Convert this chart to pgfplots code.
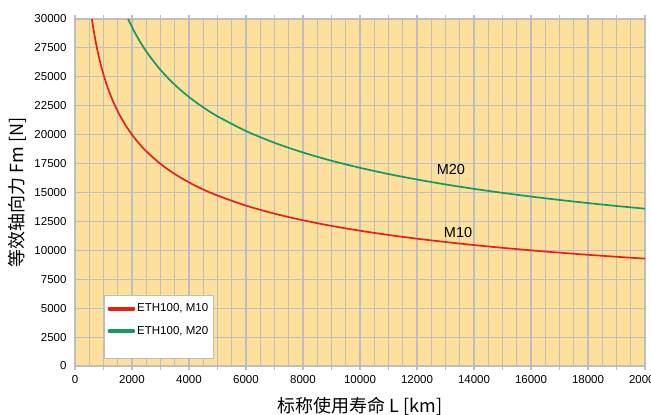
\documentclass[border=0pt]{standalone}
\usepackage{pgfplots}
\pgfplotsset{compat=1.18}
\usepackage{fontspec}
\setmainfont{Liberation Sans}
\newfontfamily\cjk{Noto Sans CJK SC}
\definecolor{bgyellow}{RGB}{252,224,156}
\definecolor{gridgray}{RGB}{190,190,190}
\definecolor{cred}{RGB}{232,32,28}
\definecolor{cgreen}{RGB}{22,152,100}
\begin{document}
\begin{tikzpicture}
\path[use as bounding box] (-75pt,-49pt) rectangle (576pt,366pt);
\begin{axis}[
  at={(0,0)}, anchor=south west,
  scale only axis, width=570pt, height=347pt,
  xmin=0, xmax=20000, ymin=0, ymax=30000,
  xtick={0,2000,...,20000},
  ytick={0,2500,...,30000},
  minor xtick={500,1000,...,19500},
  extra x ticks={1000,3000,...,19000},
  extra x tick labels={},
  grid=both,
  major grid style={draw=gridgray, line width=1.1pt},
  minor grid style={draw=gridgray, line width=1.1pt},
  extra tick style={grid style={draw=gridgray, line width=1.1pt}},
  axis line style={draw=gridgray, line width=1.1pt},
  axis background/.style={fill=bgyellow},
  tick align=outside,
  major tick length=4pt, minor tick length=0pt,
  xtick style={draw=gridgray, line width=1.1pt},
  ytick style={draw=none},
  scaled ticks=false,
  /pgf/number format/assume math mode=true,
  /pgf/number format/1000 sep={},
  tick label style={font=\fontsize{11.5}{13}\selectfont},
  xticklabel style={yshift=-2pt},
  yticklabel style={xshift=-1pt},
  xlabel={\cjk 标称使用寿命 L [km]},
  ylabel={\cjk 等效轴向力 Fm [N]},
  xlabel style={at={(rel axis cs:0.5,0)}, anchor=center, yshift=-40pt, font=\fontsize{18}{20}\selectfont},
  ylabel style={at={(rel axis cs:0,0.5)}, anchor=center, yshift=58pt, font=\fontsize{18}{20}\selectfont},
  legend style={at={(rel axis cs:0.051,0.02)}, anchor=south west, fill=white, draw=gridgray, line width=1.1pt,
    font=\fontsize{11.5}{13}\selectfont, row sep=9pt, inner xsep=3pt, inner ysep=6pt},
  legend cell align=left,
  legend image code/.code={\draw[#1, line cap=round] (0pt,0pt) -- (24pt,0pt);},
  legend image post style={line width=3.6pt},
  every axis plot/.append style={line width=1.7pt},
  clip=true,
]
\addplot[cred, smooth] coordinates {
(593,30000) (650,29091) (700,28380) (750,27733) (800,27145) (850,26600) (900,26099)
(1000,25198) (1100,24410) (1200,23712) (1300,23088) (1400,22525) (1600,21545)
(1800,20715) (2000,20000) (2200,19375) (2500,18566) (3000,17472) (3500,16597)
(4000,15874) (4500,15262) (5000,14736) (6000,13867) (7000,13173) (8000,12599)
(9000,12114) (10000,11696) (11000,11329) (12000,11007) (13000,10720) (14000,10455)
(15000,10218) (16000,10000) (17000,9800) (18000,9615) (19000,9443) (20000,9283)
};
\addlegendentry{ETH100, M10}
\addplot[cgreen, smooth] coordinates {
(1863,30000) (2000,29301) (2200,28384) (2500,27200) (3000,25597) (3500,24314)
(4000,23256) (4500,22360) (5000,21588) (6000,20316) (7000,19298) (8000,18458)
(9000,17747) (10000,17135) (11000,16599) (12000,16125) (13000,15700) (14000,15317)
(15000,14969) (16000,14650) (17000,14357) (18000,14086) (19000,13835) (20000,13600)
};
\addlegendentry{ETH100, M20}
\addlegendimage{empty legend}
\addlegendentry{}
\node[font=\fontsize{14.5}{16}\selectfont, anchor=center] at (axis cs:13190,16955) {M20};
\node[font=\fontsize{14.5}{16}\selectfont, anchor=center] at (axis cs:13440,11580) {M10};
\end{axis}
\end{tikzpicture}
\end{document}
